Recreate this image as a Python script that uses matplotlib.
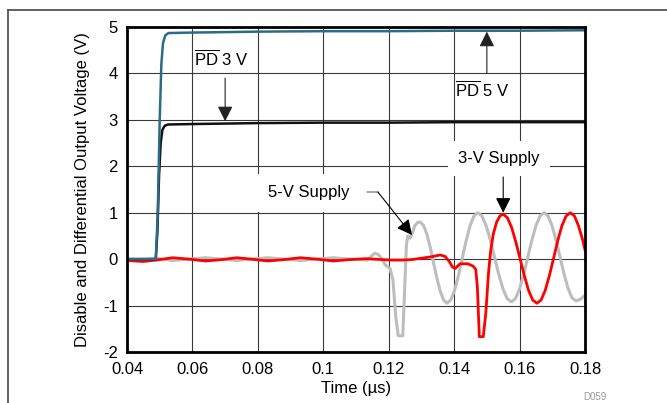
import matplotlib
matplotlib.use("Agg")
import matplotlib.pyplot as plt
from matplotlib.lines import Line2D

plt.rcParams['font.family'] = ['Liberation Sans', 'DejaVu Sans']
plt.rcParams['mathtext.fontset'] = 'custom'
plt.rcParams['mathtext.rm'] = 'Liberation Sans'
plt.rcParams['mathtext.it'] = 'Liberation Sans:italic'
plt.rcParams['axes.unicode_minus'] = False

# ---------------- data (time in µs, volts) ----------------
t_blue = [0.040, 0.0488, 0.0494, 0.0500, 0.0505, 0.0510, 0.0517, 0.0527, 0.060,
          0.080, 0.100, 0.120, 0.140, 0.160, 0.180]
v_blue = [0.0, 0.0, 1.0, 3.0, 4.2, 4.65, 4.82, 4.87, 4.88,
          4.90, 4.91, 4.91, 4.92, 4.92, 4.93]

t_black = [0.040, 0.0488, 0.0493, 0.0498, 0.0503, 0.0508, 0.0515, 0.0525, 0.060,
           0.080, 0.100, 0.120, 0.140, 0.160, 0.180]
v_black = [0.0, 0.0, 0.6, 1.8, 2.5, 2.78, 2.87, 2.90, 2.91,
           2.93, 2.94, 2.94, 2.95, 2.95, 2.95]

t_red = [0.040, 0.045, 0.049, 0.054, 0.059, 0.064, 0.069, 0.0735, 0.078, 0.083,
         0.088, 0.093, 0.098, 0.103, 0.108, 0.113, 0.118, 0.121, 0.124, 0.127,
         0.130, 0.133, 0.1357, 0.1372, 0.1385, 0.1395, 0.1403, 0.1418, 0.1442,
         0.1458, 0.1466, 0.1471, 0.1477, 0.1489, 0.1497, 0.1505, 0.1512, 0.1520,
         0.1530, 0.1540, 0.1550, 0.15629, 0.15758, 0.15886, 0.16015, 0.16144,
         0.16273, 0.16401, 0.1653, 0.16658, 0.16785, 0.16913, 0.1704, 0.17168,
         0.17295, 0.17423, 0.1755, 0.17678, 0.17805, 0.17933, 0.180]
v_red = [-0.03, -0.05, -0.02, 0.03, 0.0, -0.04, -0.01, 0.03, 0.0, -0.04,
         -0.01, 0.03, 0.0, -0.04, -0.01, 0.01, -0.01, -0.02, -0.02, -0.01,
         0.02, 0.05, 0.09, 0.06, -0.05, -0.17, -0.20, -0.10, -0.10,
         -0.15, -0.22, -0.60, -1.67, -1.67, -1.15, -0.30, 0.20, 0.55,
         0.80, 0.93, 0.97, 0.89, 0.68, 0.37, 0.01, -0.35,
         -0.67, -0.88, -0.95, -0.88, -0.67, -0.35, 0.02, 0.40,
         0.72, 0.93, 1.00, 0.93, 0.71, 0.40, 0.20]

t_gray = [0.040, 0.045, 0.049, 0.054, 0.059, 0.064, 0.069, 0.0735, 0.078, 0.083,
          0.088, 0.093, 0.098, 0.103, 0.108, 0.1113, 0.1134, 0.1146, 0.1158,
          0.1168, 0.1178, 0.1189, 0.1204, 0.1213, 0.1221, 0.1229, 0.1243,
          0.1249, 0.1254, 0.1258, 0.1265, 0.1271, 0.1280, 0.1288, 0.1296,
          0.13063, 0.13165, 0.13268, 0.1337, 0.13473, 0.13575, 0.13678, 0.1378,
          0.13898, 0.14015, 0.14133, 0.1425, 0.14368, 0.14485, 0.14603, 0.1472,
          0.14849, 0.14978, 0.15106, 0.15235, 0.15364, 0.15493, 0.15621, 0.1575,
          0.15875, 0.16, 0.16125, 0.1625, 0.16375, 0.165, 0.16625, 0.1675,
          0.16871, 0.16993, 0.17114, 0.17235, 0.17356, 0.17478, 0.17599, 0.1772,
          0.1787, 0.180]
v_gray = [0.0, 0.0, 0.02, -0.03, 0.0, 0.03, 0.0, -0.03, 0.0, 0.03,
          0.0, -0.03, 0.0, 0.03, 0.0, -0.01, -0.02, 0.06, 0.13,
          0.10, 0.02, -0.12, -0.20, -0.45, -1.20, -1.65, -1.65,
          -0.60, 0.30, 0.50, 0.45, 0.55, 0.72, 0.79, 0.80,
          0.73, 0.54, 0.26, -0.075, -0.41, -0.69, -0.88, -0.95,
          -0.88, -0.665, -0.35, 0.025, 0.40, 0.715, 0.925, 1.00,
          0.93, 0.72, 0.41, 0.04, -0.33, -0.64, -0.85, -0.92,
          -0.85, -0.64, -0.33, 0.04, 0.41, 0.72, 0.93, 1.00,
          0.93, 0.72, 0.41, 0.05, -0.31, -0.62, -0.83, -0.90,
          -0.86, -0.78]

x_ticks = [0.04, 0.06, 0.08, 0.10, 0.12, 0.14, 0.16, 0.18]
x_tick_labels = ['0.04', '0.06', '0.08', '0.1', '0.12', '0.14', '0.16', '0.18']
y_ticks = [-2, -1, 0, 1, 2, 3, 4, 5]
y_tick_labels = ['-2', '-1', '0', '1', '2', '3', '4', '5']

# ---------------- figure ----------------
W, H = 667, 403
fig = plt.figure(figsize=(W / 100, H / 100), dpi=100)
ax = fig.add_axes([127 / W, 1 - 352 / H, (585 - 127) / W, (352 - 27) / H])

ax.set_xlim(0.04, 0.18)
ax.set_ylim(-2, 5)
ax.set_xticks(x_ticks)
ax.set_xticklabels(x_tick_labels)
ax.set_yticks(y_ticks)
ax.set_yticklabels(y_tick_labels)
ax.tick_params(axis='both', length=0, labelsize=12, colors='black')
ax.tick_params(axis='y', pad=6.5)
ax.tick_params(axis='x', pad=7)
ax.grid(True, color='#3a3a3a', linewidth=0.8)
ax.set_axisbelow(True)
for s in ax.spines.values():
    s.set_linewidth(2.0)
    s.set_color('black')
    s.set_zorder(10)

ax.plot(t_gray, v_gray, color='#BDBDBD', lw=2.2, zorder=3)
ax.plot(t_red, v_red, color='#FF0000', lw=2.0, zorder=4)
ax.plot(t_black, v_black, color='#111111', lw=1.8, zorder=5)
ax.plot(t_blue, v_blue, color='#2C6B88', lw=1.8, zorder=6)

arrow_kw = dict(arrowstyle='-|>,head_length=0.4,head_width=0.2', mutation_scale=23,
                color='black', lw=0.8, shrinkA=0, shrinkB=0)

# PD 3 V
ax.text(0.0687, 4.31, r'$\overline{\mathrm{PD}}$ 3 V', fontsize=12, ha='center', va='center', zorder=8)
ax.annotate('', xy=(0.070, 2.97), xytext=(0.070, 3.90),
            arrowprops=dict(arrow_kw, color='#222222'), zorder=8)

# PD 5 V
ax.text(0.1485, 3.64, r'$\overline{\mathrm{PD}}$ 5 V', fontsize=12, ha='center', va='center', zorder=8)
ax.annotate('', xy=(0.150, 4.90), xytext=(0.150, 4.0),
            arrowprops=dict(arrow_kw, color='#222222'), zorder=8)

# 3-V Supply
ax.text(0.1537, 2.16, '3-V Supply', fontsize=12, ha='center', va='center', zorder=8,
        bbox=dict(boxstyle='square,pad=0.6', fc='white', ec='none'))
ax.annotate('', xy=(0.155, 1.0), xytext=(0.155, 1.77),
            arrowprops=arrow_kw, zorder=8)

# 5-V Supply
ax.text(0.0956, 1.425, '5-V Supply', fontsize=12, ha='center', va='center', zorder=8,
        bbox=dict(boxstyle='square,pad=0.7', fc='white', ec='none'))
ax.annotate('', xy=(0.1167, 1.446), xytext=(0.1134, 1.446),
            arrowprops=dict(arrowstyle='-', color='#999999', lw=1.2, shrinkA=0, shrinkB=0), zorder=8)
ax.annotate('', xy=(0.1271, 0.52), xytext=(0.1167, 1.446),
            arrowprops=arrow_kw, zorder=8)

# axis labels
fig.text(83 / W, 1 - 190 / H, 'Disable and Differential Output Voltage (V)', rotation=90,
         ha='center', va='center', fontsize=12)
fig.text(356 / W, 1 - 388 / H, 'Time (µs)', ha='center', va='center', fontsize=12)
fig.text(595 / W, 1 - 397 / H, 'D059', ha='center', va='center', fontsize=7, color='#999999')

# outer frame lines
fig.add_artist(Line2D([8 / W, 8 / W], [0, 1 - 10 / H], transform=fig.transFigure,
                      color='#555555', lw=1.3))
fig.add_artist(Line2D([8 / W, 1], [1 - 10 / H, 1 - 10 / H], transform=fig.transFigure,
                      color='#555555', lw=1.3))

fig.savefig('out.png', dpi=100)
